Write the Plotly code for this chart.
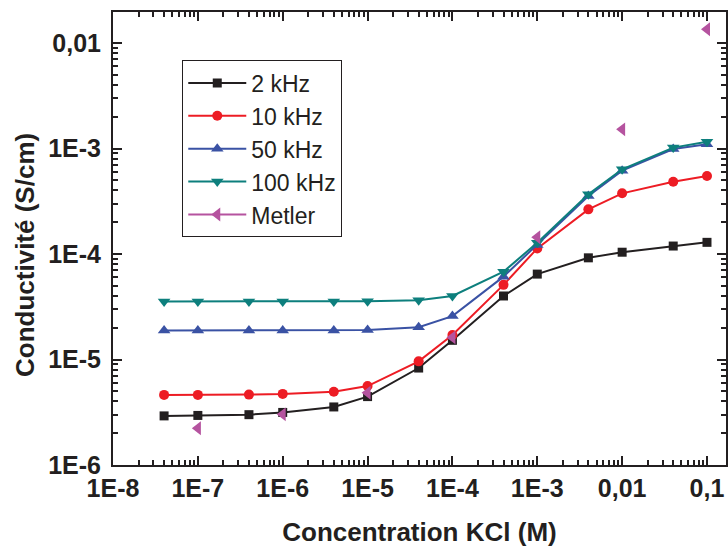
import plotly.graph_objects as go

conc = [4e-8, 1e-7, 4e-7, 1e-6, 4e-6, 1e-5, 4e-5, 1e-4, 4e-4, 1e-3, 4e-3, 1e-2, 4e-2, 1e-1]
s2k = [2.92e-6, 2.95e-6, 3.0e-6, 3.15e-6, 3.55e-6, 4.45e-6, 8.3e-6, 1.52e-5, 4.0e-5, 6.45e-5, 9.2e-5, 1.04e-4, 1.19e-4, 1.29e-4]
s10k = [4.62e-6, 4.62e-6, 4.65e-6, 4.72e-6, 4.95e-6, 5.6e-6, 9.6e-6, 1.71e-5, 5.1e-5, 1.13e-4, 2.65e-4, 3.76e-4, 4.84e-4, 5.48e-4]
s50k = [1.88e-5, 1.88e-5, 1.88e-5, 1.88e-5, 1.88e-5, 1.9e-5, 2.02e-5, 2.58e-5, 6.1e-5, 1.22e-4, 3.55e-4, 6.17e-4, 9.9e-4, 1.1e-3]
s100k = [3.55e-5, 3.55e-5, 3.55e-5, 3.55e-5, 3.55e-5, 3.57e-5, 3.65e-5, 4.0e-5, 6.8e-5, 1.28e-4, 3.68e-4, 6.35e-4, 1.02e-3, 1.16e-3]
met_x = [1e-7, 1e-6, 1e-5, 1e-4, 1e-3, 1e-2, 1e-1]
met_y = [2.23e-6, 3.02e-6, 4.84e-6, 1.62e-5, 1.44e-4, 1.52e-3, 1.35e-2]

x_tickvals = [1e-8, 1e-7, 1e-6, 1e-5, 1e-4, 1e-3, 1e-2, 1e-1]
x_ticktext = ["1E-8", "1E-7", "1E-6", "1E-5", "1E-4", "1E-3", "0,01", "0,1"]
y_tickvals = [1e-6, 1e-5, 1e-4, 1e-3, 1e-2]
y_ticktext = ["1E-6", "1E-5", "1E-4", "1E-3", "0,01"]

def minors(decs):
    out = []
    for d in decs:
        for m in range(2, 10):
            out.append(m * d)
    return out

FONT = "Liberation Sans, Arial, sans-serif"
INK = "#231f20"
fig = go.Figure()

series = [
    ("2 kHz", s2k, INK, "square", 9),
    ("10 kHz", s10k, "#ed1c24", "circle", 10),
    ("50 kHz", s50k, "#3a52a4", "triangle-up", 11),
    ("100 kHz", s100k, "#0d7f7d", "triangle-down", 11),
]
for name, ys, col, sym, sz in series:
    fig.add_trace(go.Scatter(x=conc, y=ys, name=name, mode="lines+markers",
                             line=dict(color=col, width=2),
                             marker=dict(symbol=sym, size=sz, color=col)))

MET = "#b5539f"
fig.add_trace(go.Scatter(x=[None], y=[None], name="Metler", mode="lines+markers",
                         line=dict(color=MET, width=2),
                         marker=dict(symbol="triangle-left", size=12, color=MET)))
fig.add_trace(go.Scatter(x=met_x, y=met_y, name="Metler", mode="markers", showlegend=False,
                         marker=dict(symbol="triangle-left", size=12, color=MET)))

axis_common = dict(type="log", showline=True, linecolor=INK, linewidth=2,
                   mirror="ticks", ticks="inside", ticklen=9, tickwidth=1.5, tickcolor=INK,
                   showgrid=False, zeroline=False, automargin=False,
                   tickfont=dict(family=FONT, size=25, color=INK, weight="bold"))

fig.update_xaxes(**axis_common, range=[-8, -0.776], tickmode="array",
                 tickvals=x_tickvals, ticktext=x_ticktext,
                 minor=dict(tickmode="array", tickvals=minors(x_tickvals),
                            ticks="inside", ticklen=5, tickcolor=INK, showgrid=False),
                 title=dict(text="Concentration KCl (M)", standoff=24,
                            font=dict(family=FONT, size=26, color=INK, weight="bold")))
fig.update_yaxes(**axis_common, range=[-6, -1.706], tickmode="array",
                 tickvals=y_tickvals, ticktext=y_ticktext, ticklabelstandoff=5,
                 minor=dict(tickmode="array", tickvals=minors(y_tickvals),
                            ticks="inside", ticklen=5, tickcolor=INK, showgrid=False))

fig.add_annotation(text="Conductivité (S/cm)", textangle=-90, xref="paper", yref="paper",
                   x=-0.1436, y=0.4636, xanchor="center", yanchor="middle", showarrow=False,
                   font=dict(family=FONT, size=26, color=INK, weight="bold"))

fig.update_layout(width=728, height=547, margin=dict(l=113, r=2, t=12, b=82),
                  paper_bgcolor="white", plot_bgcolor="white",
                  legend=dict(x=0.113, y=0.893, xanchor="left", yanchor="top",
                              bordercolor=INK, borderwidth=1, bgcolor="white",
                              font=dict(family=FONT, size=23, color=INK),
                              itemwidth=58, tracegroupgap=0))

fig.write_html("out.html", config={"displayModeBar": False},
               post_script="document.body.style.margin='0';")
